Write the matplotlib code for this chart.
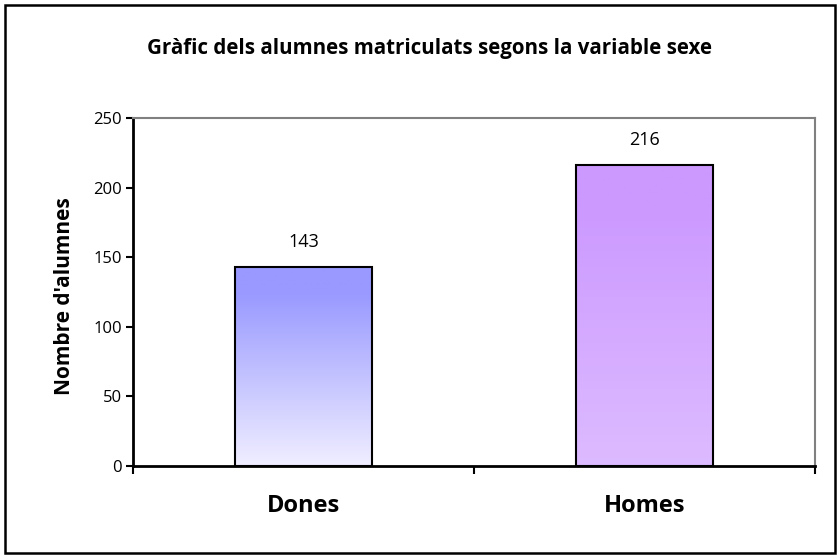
import numpy as np
import matplotlib
matplotlib.use("Agg")
from matplotlib import pyplot as plt
from matplotlib.colors import LinearSegmentedColormap
from matplotlib.patches import Rectangle

plt.rcParams['font.family'] = ['Open Sans', 'DejaVu Sans']

categories = ['Dones', 'Homes']
values = [143, 216]
title = "Gràfic dels alumnes matriculats segons la variable sexe"
ylabel = "Nombre d'alumnes"
yticks = [0, 50, 100, 150, 200, 250]

# gradients: (top colour, bottom colour)
gradients = [('#9999ff', '#f0eeff'), ('#cc99ff', '#ddbbff')]

fig = plt.figure(figsize=(8.4, 5.58), dpi=100)
fig.patches.append(Rectangle((0.006, 0.009), 0.988, 0.982, transform=fig.transFigure,
                             fill=False, edgecolor='black', linewidth=1.8))

ax = fig.add_axes([0.1583, 0.1649, 0.8119, 0.6236])
ax.set_xlim(-0.5, 1.5)
ax.set_ylim(0, 250)

width = 0.4
bars = ax.bar(range(len(categories)), values, width=width, facecolor='none',
              edgecolor='black', linewidth=1.5, zorder=3)

for bar, (top, bottom) in zip(bars, gradients):
    cmap = LinearSegmentedColormap.from_list('g', [bottom, top])
    x0, y0 = bar.get_x(), bar.get_y()
    w, h = bar.get_width(), bar.get_height()
    grad = np.linspace(0, 1, 256).reshape(-1, 1)
    grad = np.clip(grad * 1.15, 0, 1)
    im = ax.imshow(grad, cmap=cmap, origin='lower', aspect='auto',
                   extent=(x0, x0 + w, y0, y0 + h), zorder=2, vmin=0, vmax=1)
    im.set_clip_path(bar)

for i, v in enumerate(values):
    ax.annotate(str(v), (i, v), xytext=(0, 18), textcoords='offset points',
                ha='center', va='center', fontsize=13)

ax.set_yticks(yticks)
ax.tick_params(axis='y', direction='out', length=5, width=1.5, labelsize=12, pad=3)
ax.set_xticks(range(len(categories)))
ax.set_xticklabels(categories, fontsize=17, fontweight='bold')
ax.tick_params(axis='x', which='major', length=0, pad=20)
ax.set_xticks([-0.5, 0.5, 1.5], minor=True)
ax.tick_params(axis='x', which='minor', direction='out', length=6, width=1.5)

for s in ['left', 'bottom']:
    ax.spines[s].set_linewidth(2)
    ax.spines[s].set_color('black')
for s in ['top', 'right']:
    ax.spines[s].set_linewidth(1.5)
    ax.spines[s].set_color('#808080')

fig.text(0.511, 0.913, title, ha='center', va='center', fontsize=14.8, fontweight='bold')
fig.text(0.077, 0.47, ylabel, ha='center', va='center', rotation=90,
         fontsize=15, fontweight='bold')

fig.savefig('out.png', dpi=100)
